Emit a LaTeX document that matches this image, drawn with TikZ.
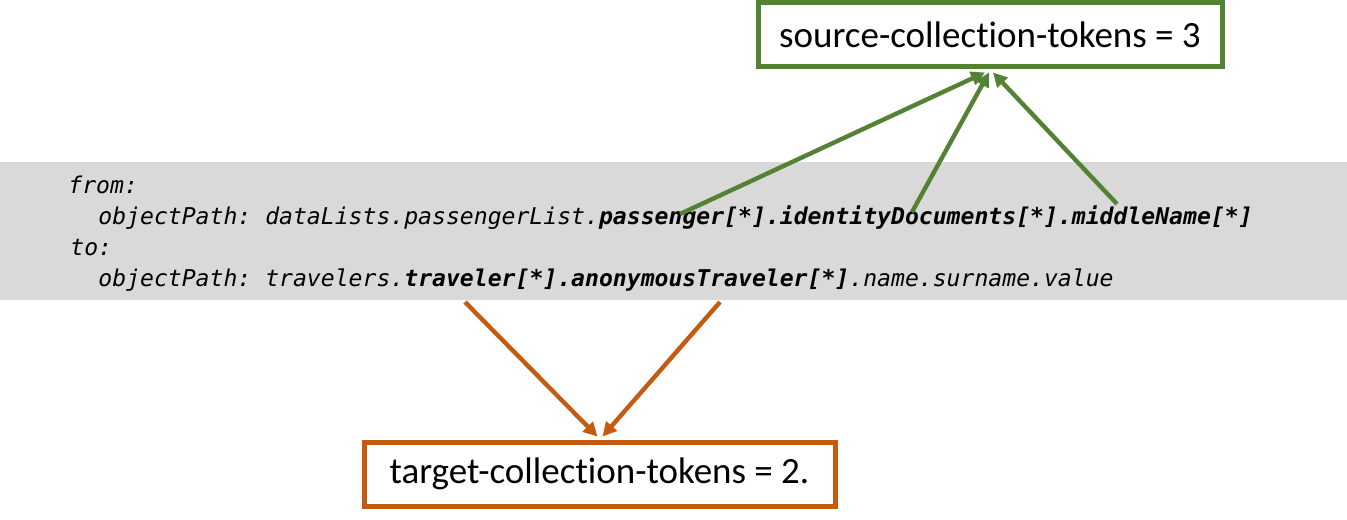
\documentclass[tikz,border=0pt]{standalone}
\usepackage{fontspec}
\setmainfont{Carlito}[Ligatures=NoCommon]
\newfontfamily\codefont{DejaVu Sans Mono}
\usetikzlibrary{arrows.meta}
\definecolor{srcgreen}{HTML}{548235}
\definecolor{tgtorange}{HTML}{C55A11}
\definecolor{band}{HTML}{D9D9D9}
\frenchspacing
\begin{document}
\begin{tikzpicture}[x=0.5pt,y=-0.5pt,
  code/.style={anchor=base west,inner sep=0pt,font=\codefont\fontsize{11.55}{14}\selectfont\itshape},
  tokbox/.style={draw,line width=2.5pt,fill=white,minimum height=32pt,inner xsep=8pt,font=\fontsize{18.5}{22}\selectfont},
  link/.style={line width=2.2pt,-{Triangle[length=7pt,width=7pt]}}]
  \useasboundingbox (0,0) rectangle (1347,519);
  \fill[band] (0,162) rectangle (1347,300);
  \node[code] (from) at (68,193) {from:};
  \node[code] (srcpath) at (98,224) {objectPath: dataLists.passengerList.\textbf{passenger[*].identityDocuments[*].middleName[*]}};
  \node[code] (to) at (70,255) {to:};
  \node[code] (tgtpath) at (98,286) {objectPath: travelers.\textbf{traveler[*].anonymousTraveler[*]}.name.surname.value};
  \node[tokbox,draw=srcgreen,minimum width=232pt] (src) at (990,35) {source-collection-tokens = 3};
  \node[tokbox,draw=tgtorange,minimum width=235.5pt] (tgt) at (599.5,474) {target-collection-tokens = 2.};
  \coordinate (pass) at (680,214);
  \coordinate (idoc) at (912,212);
  \coordinate (mid) at (1117,204);
  \coordinate (trav) at (465,302);
  \coordinate (anon) at (720,302);
  \draw[link,srcgreen] (pass) -- ([xshift=-2.5pt,yshift=-1.5pt]src.south);
  \draw[link,srcgreen] (idoc) -- ([xshift=-0.5pt,yshift=-1.5pt]src.south);
  \draw[link,srcgreen] (mid) -- ([xshift=1.5pt,yshift=-1.5pt]src.south);
  \draw[link,tgtorange] (trav) -- ([xshift=-1pt,yshift=1.5pt]tgt.north);
  \draw[link,tgtorange] (anon) -- ([xshift=1.5pt,yshift=1.5pt]tgt.north);
\end{tikzpicture}
\end{document}
